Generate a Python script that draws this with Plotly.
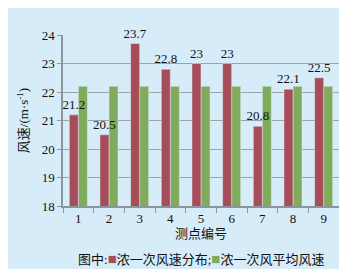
import plotly.graph_objects as go

points = ["1", "2", "3", "4", "5", "6", "7", "8", "9"]
speed = [21.2, 20.5, 23.7, 22.8, 23, 23, 20.8, 22.1, 22.5]
avg_speed = [22.2, 22.2, 22.2, 22.2, 22.2, 22.2, 22.2, 22.2, 22.2]
speed_labels = ["21.2", "20.5", "23.7", "22.8", "23", "23", "20.8", "22.1", "22.5"]

red = "#a64d5a"
green = "#7fab5c"
bg = "#d7ecf9"
font_fam = "Liberation Serif, Noto Sans CJK SC, serif"
bw = 0.295

fig = go.Figure()
fig.add_trace(go.Bar(x=points, y=avg_speed, marker_color=green, offset=0, width=bw,
                     name="浓一次风平均风速"))
fig.add_trace(go.Bar(x=points, y=speed, marker_color=red, offset=-bw, width=bw,
                     text=speed_labels, textposition="outside", cliponaxis=False,
                     constraintext="none",
                     textfont=dict(size=13, color="#111", family=font_fam),
                     name="浓一次风速分布"))

fig.update_layout(
    width=347, height=269,
    paper_bgcolor=bg, plot_bgcolor=bg,
    margin=dict(l=55, r=16, t=27, b=71),
    barmode="overlay",
    showlegend=False,
    font=dict(family=font_fam, size=13, color="#111"),
    annotations=[
        dict(text="图中:<span style='color:%s;font-size:15px'>■</span>浓一次风速分布;<span style='color:%s;font-size:15px'>■</span>浓一次风平均风速" % (red, green),
             x=0.5, y=0, xref="paper", yref="paper", yanchor="middle", yshift=-53,
             xanchor="center", showarrow=False, font=dict(size=13, family=font_fam))
    ],
)
fig.update_xaxes(
    type="category", showline=True, linecolor="#8c949c", linewidth=1.5,
    ticks="outside", tickson="boundaries", ticklen=5, tickcolor="#8c949c",
    title=dict(text="测点编号", standoff=0, font=dict(size=13)),
    tickfont=dict(size=13),
)
fig.update_yaxes(
    range=[18, 24], dtick=1, showline=True, linecolor="#8c949c", linewidth=1.5,
    ticks="outside", ticklen=4, tickcolor="#8c949c",
    gridcolor="#9aa2aa", gridwidth=1.2, zeroline=False,
    title=dict(text="风速/(m·s<sup>-1</sup>)", standoff=10, font=dict(size=13)),
    tickfont=dict(size=13),
)

fig.write_html("out.html")
